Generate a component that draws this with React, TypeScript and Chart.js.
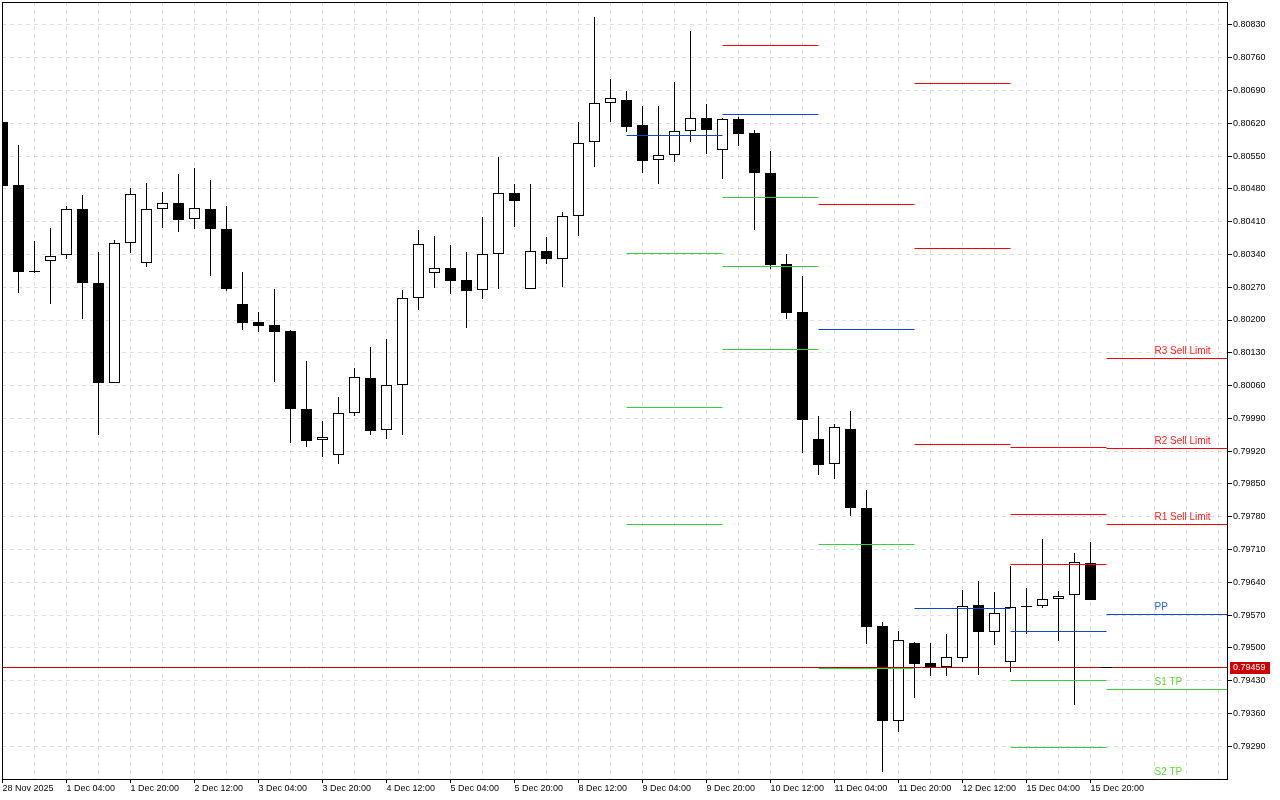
import React, { useEffect, useRef } from 'react';
import { Chart, registerables } from 'chart.js';

Chart.register(...registerables);

// ---- Time axis labels (one every 4 H4 candles) ----
const xTickLabels = [
  '28 Nov 2025', '1 Dec 04:00', '1 Dec 20:00', '2 Dec 12:00', '3 Dec 04:00', '3 Dec 20:00',
  '4 Dec 12:00', '5 Dec 04:00', '5 Dec 20:00', '8 Dec 12:00', '9 Dec 04:00', '9 Dec 20:00',
  '10 Dec 12:00', '11 Dec 04:00', '11 Dec 20:00', '12 Dec 12:00', '15 Dec 04:00', '15 Dec 20:00',
];

// ---- Price axis tick labels ----
const yTickValues = [
  0.79290, 0.79360, 0.79430, 0.79500, 0.79570, 0.79640, 0.79710, 0.79780, 0.79850, 0.79920,
  0.79990, 0.80060, 0.80130, 0.80200, 0.80270, 0.80340, 0.80410, 0.80480, 0.80550, 0.80620,
  0.80690, 0.80760, 0.80830,
];

// ---- Candles (H4) ----
const opens = [
  0.80623, 0.80488, 0.80304, 0.80326, 0.80338, 0.80437, 0.80279, 0.80066, 0.80364, 0.80321,
  0.80437, 0.80449, 0.80415, 0.80437, 0.80394, 0.80234, 0.80196, 0.80190, 0.80177, 0.80010,
  0.79943, 0.79911, 0.80001, 0.80076, 0.79965, 0.80061, 0.80247, 0.80300, 0.80311, 0.80286,
  0.80264, 0.80342, 0.80471, 0.80266, 0.80348, 0.80330, 0.80422, 0.80580, 0.80663, 0.80670,
  0.80617, 0.80541, 0.80552, 0.80603, 0.80631, 0.80562, 0.80629, 0.80599, 0.80514, 0.80320,
  0.80217, 0.79946, 0.79892, 0.79967, 0.79799, 0.79547, 0.79343, 0.79511, 0.79468, 0.79460,
  0.79478, 0.79591, 0.79533, 0.79469, 0.79588, 0.79589, 0.79604, 0.79612, 0.79681,
];
const highs = [
  0.80632, 0.80574, 0.80369, 0.80397, 0.80444, 0.80467, 0.80345, 0.80371, 0.80482, 0.80493,
  0.80473, 0.80512, 0.80525, 0.80499, 0.80444, 0.80303, 0.80217, 0.80266, 0.80178, 0.80113,
  0.79985, 0.80036, 0.80098, 0.80143, 0.80160, 0.80264, 0.80392, 0.80380, 0.80360, 0.80345,
  0.80420, 0.80547, 0.80491, 0.80491, 0.80377, 0.80431, 0.80622, 0.80847, 0.80715, 0.80689,
  0.80657, 0.80657, 0.80708, 0.80817, 0.80661, 0.80632, 0.80634, 0.80606, 0.80561, 0.80341,
  0.80294, 0.79995, 0.79978, 0.80006, 0.79837, 0.79555, 0.79537, 0.79512, 0.79511, 0.79530,
  0.79624, 0.79643, 0.79620, 0.79675, 0.79627, 0.79733, 0.79622, 0.79703, 0.79726,
];
const lows = [
  0.80478, 0.80258, 0.80300, 0.80234, 0.80331, 0.80203, 0.79955, 0.80065, 0.80344, 0.80314,
  0.80397, 0.80387, 0.80395, 0.80295, 0.80263, 0.80179, 0.80175, 0.80068, 0.79937, 0.79928,
  0.79908, 0.79893, 0.79994, 0.79955, 0.79947, 0.79955, 0.80222, 0.80269, 0.80256, 0.80182,
  0.80245, 0.80266, 0.80399, 0.80266, 0.80320, 0.80271, 0.80380, 0.80527, 0.80623, 0.80601,
  0.80513, 0.80491, 0.80538, 0.80581, 0.80555, 0.80502, 0.80572, 0.80393, 0.80308, 0.80203,
  0.79915, 0.79870, 0.79861, 0.79782, 0.79509, 0.79236, 0.79321, 0.79392, 0.79439, 0.79440,
  0.79469, 0.79443, 0.79507, 0.79449, 0.79530, 0.79586, 0.79515, 0.79377, 0.79603,
];
const closes = [
  0.80486, 0.80303, 0.80303, 0.80336, 0.80437, 0.80278, 0.80066, 0.80364, 0.80469, 0.80437,
  0.80449, 0.80414, 0.80439, 0.80395, 0.80267, 0.80194, 0.80188, 0.80175, 0.80009, 0.79942,
  0.79950, 0.80001, 0.80078, 0.79964, 0.80061, 0.80247, 0.80362, 0.80311, 0.80284, 0.80261,
  0.80340, 0.80471, 0.80455, 0.80347, 0.80331, 0.80422, 0.80577, 0.80663, 0.80674, 0.80613,
  0.80540, 0.80552, 0.80603, 0.80631, 0.80606, 0.80629, 0.80598, 0.80513, 0.80318, 0.80214,
  0.79987, 0.79891, 0.79971, 0.79799, 0.79545, 0.79343, 0.79517, 0.79466, 0.79460, 0.79480,
  0.79589, 0.79533, 0.79574, 0.79587, 0.79588, 0.79604, 0.79610, 0.79683, 0.79603,
];

// ---- Daily pivot levels (segment start / end in candle index) ----
const pivotStarts = [39, 45, 51, 57, 63, 69];
const pivotEnds = [45, 51, 57, 63, 69, 77];
const r3Levels = [null, null, null, 0.80704, 0.79928, 0.80118];
const r2Levels = [null, null, null, 0.80353, 0.79785, 0.79926];
const r1Levels = [null, 0.80787, 0.80447, 0.79935, 0.79679, 0.79764];
const ppLevels = [0.80595, 0.80639, 0.80180, 0.79585, 0.79536, 0.79572];
const s1Levels = [0.80343, 0.80462, 0.79721, null, 0.79431, 0.79412];
const s2Levels = [0.80014, 0.80315, 0.79457, null, 0.79288, 0.79218];
const s3Levels = [0.79763, 0.80136, null, null, null, null];

const levelNames = ['R3 Sell Limit', 'R2 Sell Limit', 'R1 Sell Limit', 'PP', 'S1 TP', 'S2 TP'];
const currentPrice = 0.79459;
const bidMarkRange = [68.66, 69.34];

const RED = '#ff0000';
const BLUE = '#0a4ad2';
const GREEN = '#3ccc3c';
const FONT = '"Liberation Sans", Arial, sans-serif';

function segments(levels: (number | null)[]) {
  const pts: { x: number; y: number | null }[] = [];
  levels.forEach((v, i) => {
    if (v == null) return;
    pts.push({ x: pivotStarts[i], y: v }, { x: pivotEnds[i], y: v }, { x: pivotEnds[i], y: null });
  });
  return pts;
}

function lineDs(levels: (number | null)[], color: string) {
  return {
    type: 'line' as const,
    data: segments(levels),
    borderColor: color,
    borderWidth: 1,
    pointRadius: 0,
    spanGaps: false,
    tension: 0,
    clip: 0,
    order: 1,
  };
}

// Snap the library-computed element positions to whole pixels (crisp MT-like rendering)
const snapPlugin = {
  id: 'pixelSnap',
  beforeDatasetsDraw(chart: any) {
    chart.data.datasets.forEach((_: any, di: number) => {
      const meta = chart.getDatasetMeta(di);
      meta.data.forEach((el: any) => {
        if (meta.type === 'bar') {
          if (isFinite(el.y)) el.y = Math.round(el.y);
          if (isFinite(el.base)) el.base = Math.round(el.base);
        } else if (isFinite(el.y)) {
          el.y = Math.floor(el.y) + 0.5;
        }
      });
    });
  },
};

const overlayPlugin = {
  id: 'mtOverlay',
  afterDraw(chart: any) {
    const ctx = chart.ctx;
    const { left, top, right, bottom } = chart.chartArea;
    const xs = chart.scales.x;
    const ys = chart.scales.y;
    const last = pivotStarts.length - 1;
    const lastLevels = [r3Levels, r2Levels, r1Levels, ppLevels, s1Levels, s2Levels];
    const labelColors = ['#ff2020', '#ff2020', '#ff2020', '#2a5fe0', '#66d43c', '#66d43c'];
    ctx.save();
    ctx.font = '10px ' + FONT;
    ctx.textAlign = 'left';
    ctx.textBaseline = 'alphabetic';
    lastLevels.forEach((arr, k) => {
      const v = arr[last];
      if (v == null) return;
      ctx.fillStyle = labelColors[k];
      ctx.fillText(levelNames[k], xs.getPixelForValue(72), Math.floor(ys.getPixelForValue(v)) - 4);
    });
    // frame
    ctx.strokeStyle = '#000';
    ctx.lineWidth = 1;
    ctx.strokeRect(left + 0.5, top + 0.5, right - left, bottom - top);
    // current price box
    const py = Math.floor(ys.getPixelForValue(currentPrice));
    ctx.fillStyle = '#cc0000';
    ctx.fillRect(right + 3, py - 5, 40, 12);
    ctx.fillStyle = '#ffffff';
    ctx.font = '9px ' + FONT;
    ctx.textBaseline = 'middle';
    ctx.fillText(currentPrice.toFixed(5), right + 6, py + 1);
    ctx.restore();
  },
};

export default function App() {
  const ref = useRef<HTMLCanvasElement>(null);

  useEffect(() => {
    const canvas = ref.current;
    if (!canvas) return;
    const idx = opens.map((_, i) => i);
    const xGrid = Array.from({ length: 39 }, (_, k) => 2 * k);

    const chart = new Chart(canvas, {
      type: 'bar',
      data: {
        datasets: [
          {
            type: 'bar',
            data: idx.map((i) => ({ x: i, y: [lows[i], highs[i]] })) as any,
            backgroundColor: '#000',
            borderWidth: 0,
            barThickness: 1,
            grouped: false,
            inflateAmount: 0,
            clip: 0,
            order: 3,
          } as any,
          {
            type: 'bar',
            data: idx.map((i) => ({ x: i, y: [opens[i], closes[i]] })) as any,
            backgroundColor: idx.map((i) => (closes[i] > opens[i] ? '#ffffff' : '#000000')),
            borderColor: '#000',
            borderWidth: 1,
            borderSkipped: false,
            barThickness: 11,
            minBarLength: 1,
            grouped: false,
            inflateAmount: 0,
            clip: 0,
            order: 2,
          } as any,
          lineDs(r3Levels, RED) as any,
          lineDs(r2Levels, RED) as any,
          lineDs(r1Levels, RED) as any,
          lineDs(ppLevels, BLUE) as any,
          lineDs(s1Levels, GREEN) as any,
          lineDs(s2Levels, GREEN) as any,
          lineDs(s3Levels, GREEN) as any,
          {
            type: 'line',
            data: [{ x: -2, y: currentPrice }, { x: 80, y: currentPrice }],
            borderColor: '#c00000',
            borderWidth: 1,
            pointRadius: 0,
            clip: 0,
            order: 0,
          } as any,
          {
            type: 'line',
            data: [{ x: bidMarkRange[0], y: currentPrice }, { x: bidMarkRange[1], y: currentPrice }],
            borderColor: '#000000',
            borderWidth: 1,
            pointRadius: 0,
            clip: 0,
            order: -1,
          } as any,
        ],
      },
      options: {
        responsive: false,
        animation: false,
        devicePixelRatio: 1,
        layout: { padding: { left: 2, top: 2, right: 0, bottom: 0 } },
        plugins: { legend: { display: false }, tooltip: { enabled: false } },
        events: [],
        scales: {
          x: {
            type: 'linear',
            min: -0.03125,
            max: 76.53125,
            offset: false,
            afterBuildTicks: (s: any) => {
              s.ticks = xGrid.map((v) => ({ value: v }));
            },
            afterFit: (s: any) => {
              s.height = 21;
              s.paddingLeft = 0;
              s.paddingRight = 0;
            },
            grid: {
              offset: false,
              color: '#dedede',
              lineWidth: 1,
              drawTicks: true,
              tickLength: 4,
              tickWidth: 1,
              tickBorderDash: [],
              tickColor: (c: any) =>
                c.tick && c.tick.value % 4 === 0 && c.tick.value / 4 < xTickLabels.length ? '#000' : 'rgba(0,0,0,0)',
            },
            border: { display: false, dash: [4, 4] },
            ticks: {
              autoSkip: false,
              maxRotation: 0,
              minRotation: 0,
              align: 'start',
              padding: 0,
              color: '#000',
              font: { family: FONT, size: 9 },
              callback: (v: any) => {
                const n = Number(v);
                return n % 4 === 0 && xTickLabels[n / 4] ? xTickLabels[n / 4] : '';
              },
            },
          } as any,
          y: {
            type: 'linear',
            position: 'right',
            min: 0.7922,
            max: 0.80879,
            beginAtZero: false,
            afterBuildTicks: (s: any) => {
              s.ticks = yTickValues.map((v) => ({ value: v }));
            },
            afterFit: (s: any) => {
              s.width = 53;
              s.paddingTop = 0;
              s.paddingBottom = 0;
            },
            grid: {
              color: '#dedede',
              lineWidth: 1,
              drawTicks: true,
              tickLength: 5,
              tickWidth: 1,
              tickColor: '#000',
              tickBorderDash: [],
            },
            border: { display: false, dash: [4, 4] },
            ticks: {
              padding: 1,
              color: '#000',
              font: { family: FONT, size: 9 },
              callback: (v: any) => Number(v).toFixed(5),
            },
          } as any,
        },
      },
      plugins: [snapPlugin, overlayPlugin],
    });
    return () => chart.destroy();
  }, []);

  return (
    <div style={{ position: 'fixed', left: 0, top: 0, width: 1280, height: 800, background: '#ffffff' }}>
      <canvas ref={ref} width={1280} height={800} style={{ display: 'block', width: 1280, height: 800 }} />
    </div>
  );
}
